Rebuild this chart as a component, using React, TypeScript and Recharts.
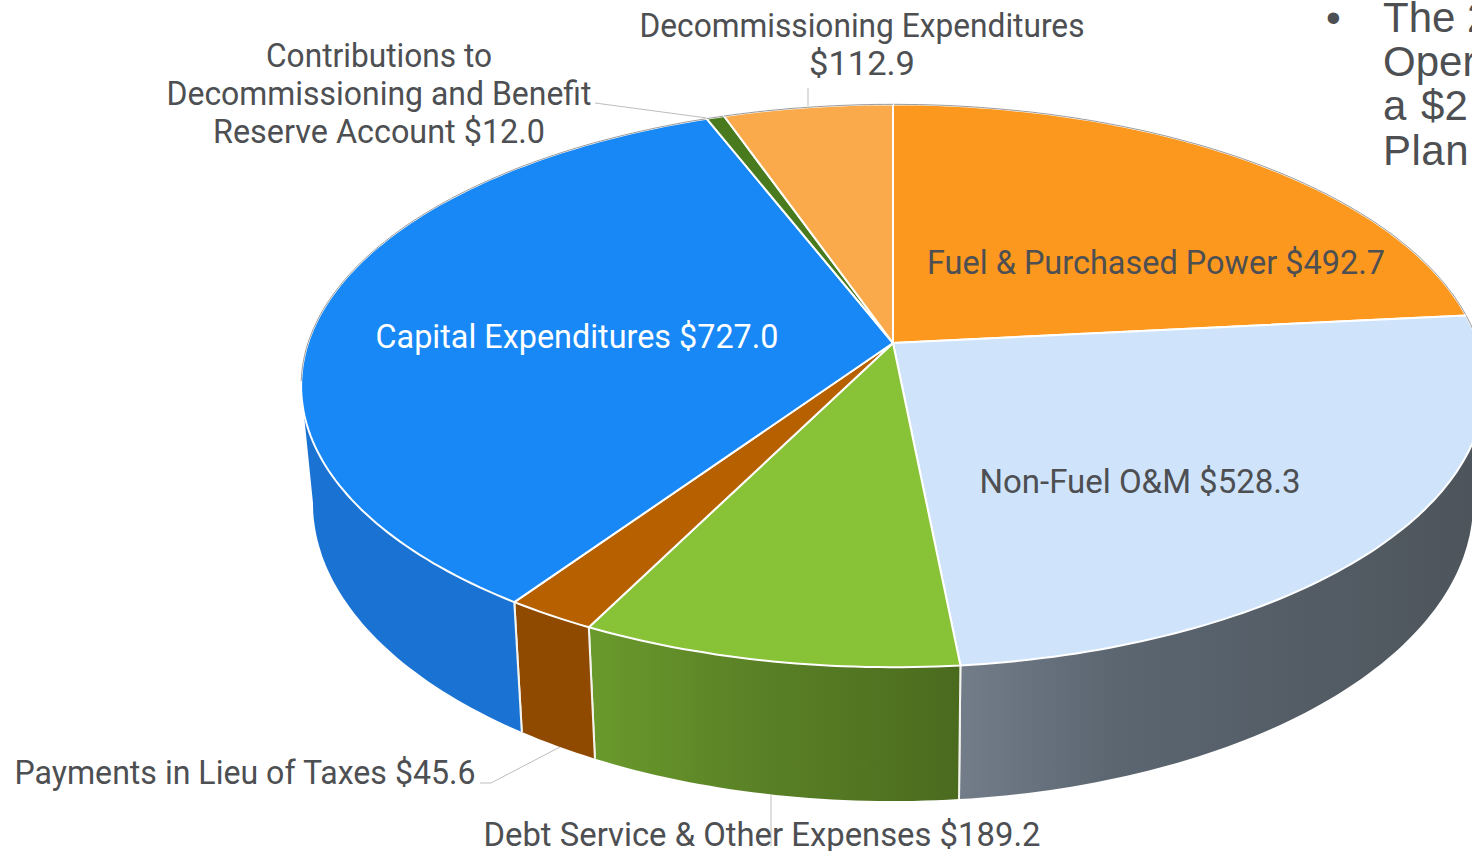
import React from 'react';
import { PieChart, Pie } from 'recharts';

const categories = [
  'Fuel & Purchased Power',
  'Non-Fuel O&M',
  'Debt Service & Other Expenses',
  'Payments in Lieu of Taxes',
  'Capital Expenditures',
  'Contributions to Decommissioning and Benefit Reserve Account',
  'Decommissioning Expenditures',
];
const amounts = [492.7, 528.3, 189.2, 45.6, 727.0, 12.0, 112.9];
const topColors = ['#fd981f', '#cfe4fb', '#88c236', '#b66000', '#1788f5', '#4a7a1e', '#fbaa4b'];
const wallColors = ['#c77510', 'url(#wallSlate)', 'url(#wallGreen)', '#8f4a00', '#1a73d3', '#3b6317', '#c98636'];

// text lines of each slice's label, same order as categories
const labelLines = [
  ['Fuel & Purchased Power $492.7'],
  ['Non-Fuel O&M $528.3'],
  ['Debt Service & Other Expenses $189.2'],
  ['Payments in Lieu of Taxes $45.6'],
  ['Capital Expenditures $727.0'],
  ['Contributions to', 'Decommissioning and Benefit', 'Reserve Account $12.0'],
  ['Decommissioning Expenditures', '$112.9'],
];

// where each line sits: centre x, baseline y, width
const labelSpots = [
  [[1156, 274, 458]],
  [[1140, 493, 321]],
  [[762, 846, 557]],
  [[245, 784, 461]],
  [[577, 348, 403]],
  [[379, 67, 226], [379, 105, 425], [379, 143, 332]],
  [[862, 37, 445], [862, 75, 106]],
];

const tableData = categories.map((name, i) => ({
  name,
  value: amounts[i],
  fill: topColors[i],
  wall: wallColors[i],
}));

// the circle from recharts is projected into the tilted disc of the picture
const TILT = 0.47;
const PERSPECTIVE = 0.152;

function rim(cx: number, cy: number, r: number, deg: number) {
  const u = Math.cos((deg * Math.PI) / 180);
  const v = Math.sin((deg * Math.PI) / 180);
  const w = 1 + PERSPECTIVE * v;
  return { x: cx + (r * u) / w, y: cy - (r * TILT * v) / w, v };
}

// same point on the lower disc, a bit narrower and a bit deeper
function lower(p: { x: number; y: number }, cx: number) {
  return { x: cx + 0.98 * (p.x - cx), y: p.y + 130 + 0.06 * (p.y - 603) };
}

function toPath(points: { x: number; y: number }[]) {
  return points.map((p, i) => `${i ? 'L' : 'M'}${p.x.toFixed(1)} ${p.y.toFixed(1)}`).join(' ');
}

function TiltedSlice(props: any) {
  const { cx, cy, outerRadius, startAngle, endAngle, fill } = props;
  const wall = props.wall ?? props.payload?.wall;
  const steps = Math.max(2, Math.ceil(Math.abs(endAngle - startAngle)));
  const edge = [];
  for (let i = 0; i <= steps; i++) {
    edge.push(rim(cx, cy, outerRadius, startAngle + ((endAngle - startAngle) * i) / steps));
  }
  const front = edge.filter((p) => p.v < -0.14);
  const back = edge.filter((p) => p.v >= -0.14);
  const startFront = edge[0].v < -0.14;
  const endFront = edge[edge.length - 1].v < -0.14;
  return (
    <g>
      {front.length > 1 && (
        <path d={toPath([...front, ...front.map((p) => lower(p, cx)).reverse()]) + ' Z'} fill={wall} />
      )}
      {startFront && (
        <path d={toPath([edge[0], lower(edge[0], cx)])} stroke="#f4f4ee" strokeWidth={2} fill="none" />
      )}
      {endFront && (
        <path
          d={toPath([edge[edge.length - 1], lower(edge[edge.length - 1], cx)])}
          stroke="#f4f4ee"
          strokeWidth={2}
          fill="none"
        />
      )}
      <path
        d={toPath([{ x: cx, y: cy }, ...edge]) + ' Z'}
        fill={fill}
        stroke="#ffffff"
        strokeWidth={2}
        strokeLinejoin="round"
      />
      {back.length > 1 && <path d={toPath(back)} stroke="#9a9a9a" strokeWidth={1} fill="none" />}
    </g>
  );
}

const textColor = '#4d4f52';

function SliceLabel(props: any) {
  const { index } = props;
  return (
    <g>
      {labelLines[index].map((line, i) => {
        const [x, y, width] = labelSpots[index][i];
        return (
          <text
            key={line}
            x={x}
            y={y}
            textAnchor="middle"
            textLength={width}
            lengthAdjust="spacingAndGlyphs"
            fontFamily="Roboto, sans-serif"
            fontSize={33}
            fill={index === 4 ? '#ffffff' : textColor}
          >
            {line}
          </text>
        );
      })}
    </g>
  );
}

export default function App() {
  return (
    <div style={{ position: 'absolute', left: 0, top: 0, width: 1472, height: 851, overflow: 'hidden', background: '#fff' }}>
      <PieChart width={1472} height={851} margin={{ top: 0, right: 0, bottom: 0, left: 0 }}>
        <defs>
          <linearGradient id="wallSlate" x1="0" y1="0" x2="1" y2="0">
            <stop offset="0" stopColor="#737d8a" />
            <stop offset="0.3" stopColor="#5b6671" />
            <stop offset="1" stopColor="#4d545b" />
          </linearGradient>
          <linearGradient id="wallGreen" x1="0" y1="0" x2="1" y2="0">
            <stop offset="0" stopColor="#6a9a2c" />
            <stop offset="0.45" stopColor="#5a8126" />
            <stop offset="1" stopColor="#4a6b1e" />
          </linearGradient>
        </defs>
        <g fill="none" stroke="#bdbdbd" strokeWidth={1}>
          <path d="M595 103 L707 118" />
          <path d="M808 88 L808 106" />
          <path d="M480 783 L491 783 L560 747" />
          <path d="M771 795 L771 846" />
        </g>
        <Pie
          data={tableData}
          dataKey="value"
          nameKey="name"
          cx={893}
          cy={343}
          outerRadius={585}
          startAngle={90}
          endAngle={-270}
          stroke="none"
          shape={TiltedSlice}
          label={SliceLabel}
          labelLine={false}
          isAnimationActive={false}
        />
        <g fontFamily="'Liberation Sans', Arial, sans-serif" fontSize={42} fill={textColor}>
          <text x={1326} y={32}>•</text>
          <text x={1383} y={32}>The 2</text>
          <text x={1383} y={76}>Oper</text>
          <text x={1383} y={120} wordSpacing={3}>a $2</text>
          <text x={1383} y={165} letterSpacing={0.5}>Plan</text>
        </g>
      </PieChart>
    </div>
  );
}
